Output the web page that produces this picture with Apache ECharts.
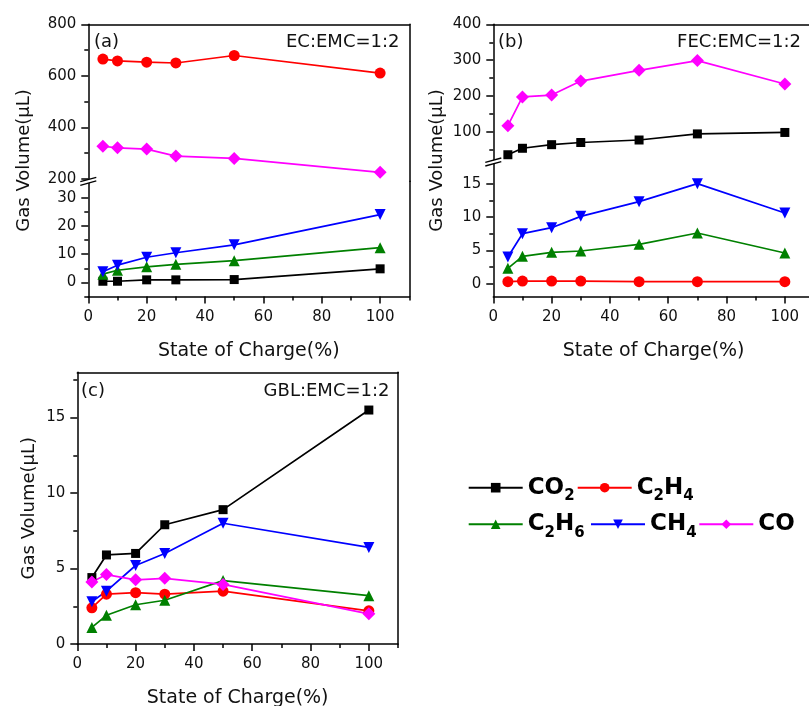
<!DOCTYPE html>
<html><head><meta charset="utf-8">
<script src="https://cdn.jsdelivr.net/npm/echarts@6/dist/echarts.min.js"></script>
<style>html,body{margin:0;padding:0;background:#fff}#chart{width:809px;height:706px}</style>
</head><body><div id="chart"></div>
<script>
// ---------- data ----------
const gases = ['CO2', 'C2H4', 'C2H6', 'CH4', 'CO'];

// (a) EC:EMC=1:2
const socA = [5, 10, 20, 30, 50, 100];
const aCO2 = [0.4, 0.4, 0.9, 0.9, 1.0, 4.8];
const aC2H4 = [665, 658, 653, 650, 679, 611];
const aC2H6 = [2.9, 4.3, 5.5, 6.4, 7.7, 12.3];
const aCH4 = [3.8, 6.1, 8.9, 10.5, 13.3, 24.0];
const aCO = [327, 321, 316, 289, 280, 226];

// (b) FEC:EMC=1:2
const socB = [5, 10, 20, 30, 50, 70, 100];
const bCO2 = [37, 55, 65, 71, 78, 95, 99];
const bC2H4 = [0.3, 0.4, 0.4, 0.4, 0.3, 0.3, 0.3];
const bC2H6 = [2.3, 4.1, 4.7, 4.9, 5.9, 7.6, 4.6];
const bCH4 = [4.0, 7.5, 8.4, 10.1, 12.3, 15.0, 10.6];
const bCO = [118, 198, 203, 242, 272, 299, 234];

// (c) GBL:EMC=1:2
const socC = [5, 10, 20, 30, 50, 100];
const cCO2 = [4.4, 5.9, 6.0, 7.9, 8.9, 15.5];
const cC2H4 = [2.4, 3.3, 3.4, 3.3, 3.5, 2.2];
const cC2H6 = [1.1, 1.9, 2.6, 2.9, 4.2, 3.2];
const cCH4 = [2.8, 3.5, 5.2, 6.0, 8.0, 6.4];
const cCO = [4.1, 4.6, 4.25, 4.35, 3.95, 2.0];

// tick labels
const xTicks = [0, 20, 40, 60, 80, 100];
const xMinor = [10, 30, 50, 70, 90, 110];
const aUpTicks = [200, 400, 600, 800];
const aUpMinor = [300, 500, 700];
const aLoTicks = [0, 10, 20, 30];
const aLoMinor = [-5, 5, 15, 25];
const bUpTicks = [100, 200, 300, 400];
const bUpMinor = [50, 150, 250, 350];
const bLoTicks = [0, 5, 10, 15];
const bLoMinor = [2.5, 7.5, 12.5];
const cTicks = [0, 5, 10, 15];
const cMinor = [2.5, 7.5, 12.5, 17.5];

// ---------- styling / layout ----------
const FONT = "'DejaVu Sans', Verdana, sans-serif";
const AXLINE = { color: '#000', width: 1.5 };
const TXT = '#111';
const STYLE = {
  CO2: { color: '#000000', symbol: 'rect', size: 9, rotate: 0 },
  C2H4: { color: '#ff0000', symbol: 'circle', size: 11, rotate: 0 },
  C2H6: { color: '#008000', symbol: 'triangle', size: 11, rotate: 0 },
  CH4: { color: '#0000ff', symbol: 'triangle', size: 11, rotate: 180 },
  CO: { color: '#ff00ff', symbol: 'diamond', size: 13, rotate: 0 }
};

const grids = [], xAxes = [], yAxes = [], series = [], graphics = [];

function addGrid(l, t, r, b) {
  grids.push({ left: l, top: t, width: r - l, height: b - t, containLabel: false, outerBoundsMode: 'none' });
  return grids.length - 1;
}
function xBottom(g, withName) {
  xAxes.push({
    type: 'value', gridIndex: g, position: 'bottom', min: 0, max: 110,
    axisLine: { show: true, onZero: false, lineStyle: AXLINE },
    axisTick: { show: true, inside: false, length: 7, lineStyle: AXLINE, customValues: xTicks },
    axisLabel: { show: true, customValues: xTicks, margin: 13, fontSize: 15, color: TXT, fontFamily: FONT },
    splitLine: { show: false },
    name: withName ? 'State of Charge(%)' : '', nameLocation: 'middle', nameGap: 45,
    nameTextStyle: { fontSize: 19, color: TXT, fontFamily: FONT }
  });
  xAxes.push({
    type: 'value', gridIndex: g, position: 'bottom', min: 0, max: 110,
    axisLine: { show: false, onZero: false },
    axisTick: { show: true, inside: false, length: 4, lineStyle: AXLINE, customValues: xMinor },
    axisLabel: { show: false }, splitLine: { show: false }
  });
  return xAxes.length - 2;
}
function xTop(g) {
  xAxes.push({
    type: 'value', gridIndex: g, position: 'top', min: 0, max: 110,
    axisLine: { show: true, onZero: false, lineStyle: AXLINE },
    axisTick: { show: false }, axisLabel: { show: false }, splitLine: { show: false }
  });
  return xAxes.length - 1;
}
function yLeft(g, min, max, ticks, minor) {
  yAxes.push({
    type: 'value', gridIndex: g, position: 'left', min: min, max: max,
    axisLine: { show: true, onZero: false, lineStyle: AXLINE },
    axisTick: { show: true, inside: false, length: 7, lineStyle: AXLINE, customValues: ticks },
    axisLabel: { show: true, customValues: ticks, margin: 12, fontSize: 15, color: TXT, fontFamily: FONT },
    splitLine: { show: false }
  });
  const main = yAxes.length - 1;
  yAxes.push({
    type: 'value', gridIndex: g, position: 'left', min: min, max: max,
    axisLine: { show: false, onZero: false },
    axisTick: { show: true, inside: false, length: 4, lineStyle: AXLINE, customValues: minor },
    axisLabel: { show: false }, splitLine: { show: false }
  });
  yAxes.push({
    type: 'value', gridIndex: g, position: 'right', min: min, max: max,
    axisLine: { show: true, onZero: false, lineStyle: AXLINE },
    axisTick: { show: false }, axisLabel: { show: false }, splitLine: { show: false }
  });
  return main;
}
function addSeries(name, xs, ys, xi, yi) {
  const s = STYLE[name];
  series.push({
    type: 'line', name: name, xAxisIndex: xi, yAxisIndex: yi,
    data: xs.map((x, i) => [x, ys[i]]),
    symbol: s.symbol, symbolSize: s.size, symbolRotate: s.rotate, showSymbol: true,
    lineStyle: { color: s.color, width: 1.7 }, itemStyle: { color: s.color },
    emphasis: { disabled: true }, animation: false, z: 3
  });
}
function breakMark(x, y) {
  const dx = 8, dy = 2.2, gap = 1.8;
  graphics.push({ type: 'polygon', silent: true, z: 100,
    shape: { points: [[x - dx, y - gap + dy], [x + dx, y - gap - dy], [x + dx, y + gap - dy], [x - dx, y + gap + dy]] },
    style: { fill: '#fff' } });
  graphics.push({ type: 'line', silent: true, z: 101,
    shape: { x1: x - dx, y1: y - gap + dy, x2: x + dx, y2: y - gap - dy }, style: { stroke: '#000', lineWidth: 1.3 } });
  graphics.push({ type: 'line', silent: true, z: 101,
    shape: { x1: x - dx, y1: y + gap + dy, x2: x + dx, y2: y + gap - dy }, style: { stroke: '#000', lineWidth: 1.3 } });
}
function label(text, x, y, align, size, rot) {
  graphics.push({ type: 'text', x: x, y: y, rotation: rot || 0, z: 100, silent: true,
    style: { text: text, fontSize: size, fontFamily: FONT, fill: TXT,
      align: align, textAlign: align, verticalAlign: 'middle', textVerticalAlign: 'middle' } });
}

// ---------- panel (a) ----------
const PA = { l: 88.3, r: 409.3, t: 24.3, s: 181.3, b: 296.5 };
const gAu = addGrid(PA.l, PA.t, PA.r, PA.s);
const gAl = addGrid(PA.l, PA.s, PA.r, PA.b);
const xAu = xTop(gAu);
const yAu = yLeft(gAu, 191.1, 800, aUpTicks, aUpMinor);
const xAl = xBottom(gAl, true);
const yAl = yLeft(gAl, -5, 35.8, aLoTicks, aLoMinor);
addSeries('CO2', socA, aCO2, xAl, yAl);
addSeries('C2H6', socA, aC2H6, xAl, yAl);
addSeries('CH4', socA, aCH4, xAl, yAl);
addSeries('C2H4', socA, aC2H4, xAu, yAu);
addSeries('CO', socA, aCO, xAu, yAu);
breakMark(PA.l, PA.s);
label('Gas Volume(μL)', 24, (PA.t + PA.b) / 2, 'center', 18, Math.PI / 2);
label('(a)', 94, 42, 'left', 18);
label('EC:EMC=1:2', 399.5, 42, 'right', 18);

// ---------- panel (b) ----------
const PB = { l: 493.3, r: 814, t: 24.3, s: 162, b: 296.5 };
const gBu = addGrid(PB.l, PB.t, PB.r, PB.s);
const gBl = addGrid(PB.l, PB.s, PB.r, PB.b);
const xBu = xTop(gBu);
const yBu = yLeft(gBu, 16.8, 400, bUpTicks, bUpMinor);
const xBl = xBottom(gBl, true);
const yBl = yLeft(gBl, -1.92, 18.25, bLoTicks, bLoMinor);
addSeries('C2H4', socB, bC2H4, xBl, yBl);
addSeries('C2H6', socB, bC2H6, xBl, yBl);
addSeries('CH4', socB, bCH4, xBl, yBl);
addSeries('CO2', socB, bCO2, xBu, yBu);
addSeries('CO', socB, bCO, xBu, yBu);
breakMark(PB.l, PB.s);
label('Gas Volume(μL)', 437, (PB.t + PB.b) / 2, 'center', 18, Math.PI / 2);
label('(b)', 498, 42, 'left', 18);
label('FEC:EMC=1:2', 801, 42, 'right', 18);

// ---------- panel (c) ----------
const PC = { l: 77.3, r: 398, t: 372.3, b: 644 };
const gC = addGrid(PC.l, PC.t, PC.r, PC.b);
const xC = xBottom(gC, true);
xTop(gC);
const yC = yLeft(gC, 0, 18, cTicks, cMinor);
addSeries('CO2', socC, cCO2, xC, yC);
addSeries('C2H4', socC, cC2H4, xC, yC);
addSeries('C2H6', socC, cC2H6, xC, yC);
addSeries('CH4', socC, cCH4, xC, yC);
addSeries('CO', socC, cCO, xC, yC);
label('Gas Volume(μL)', 29, (PC.t + PC.b) / 2, 'center', 18, Math.PI / 2);
label('(c)', 81, 391.5, 'left', 18);
label('GBL:EMC=1:2', 389.5, 391.5, 'right', 18);

// ---------- legend ----------
const legendPos = { CO2: [467.7, 487.7], C2H4: [576.7, 487.7], C2H6: [467.7, 524.3], CH4: [590, 524.3], CO: [698.3, 524.3] };
const LEG_H = 32;
const legends = gases.map(g => ({
  data: [g], left: legendPos[g][0], top: legendPos[g][1] - LEG_H / 2,
  orient: 'horizontal', padding: 0, itemWidth: 54, itemHeight: 12, itemGap: 0, selectedMode: false,
  formatter: n => n.replace(/(\d)/g, '{s|$1}'),
  textStyle: { fontSize: 23, fontWeight: 'bold', color: '#000', fontFamily: FONT, lineHeight: LEG_H,
    rich: { s: { fontSize: 15, fontWeight: 'bold', color: '#000', fontFamily: FONT, verticalAlign: 'bottom', lineHeight: 15 } } }
}));

const chart = echarts.init(document.getElementById('chart'), null, { renderer: 'canvas' });
chart.setOption({
  backgroundColor: '#fff', animation: false,
  grid: grids, xAxis: xAxes, yAxis: yAxes, series: series,
  legend: legends, graphic: { elements: graphics }
});
</script></body></html>
